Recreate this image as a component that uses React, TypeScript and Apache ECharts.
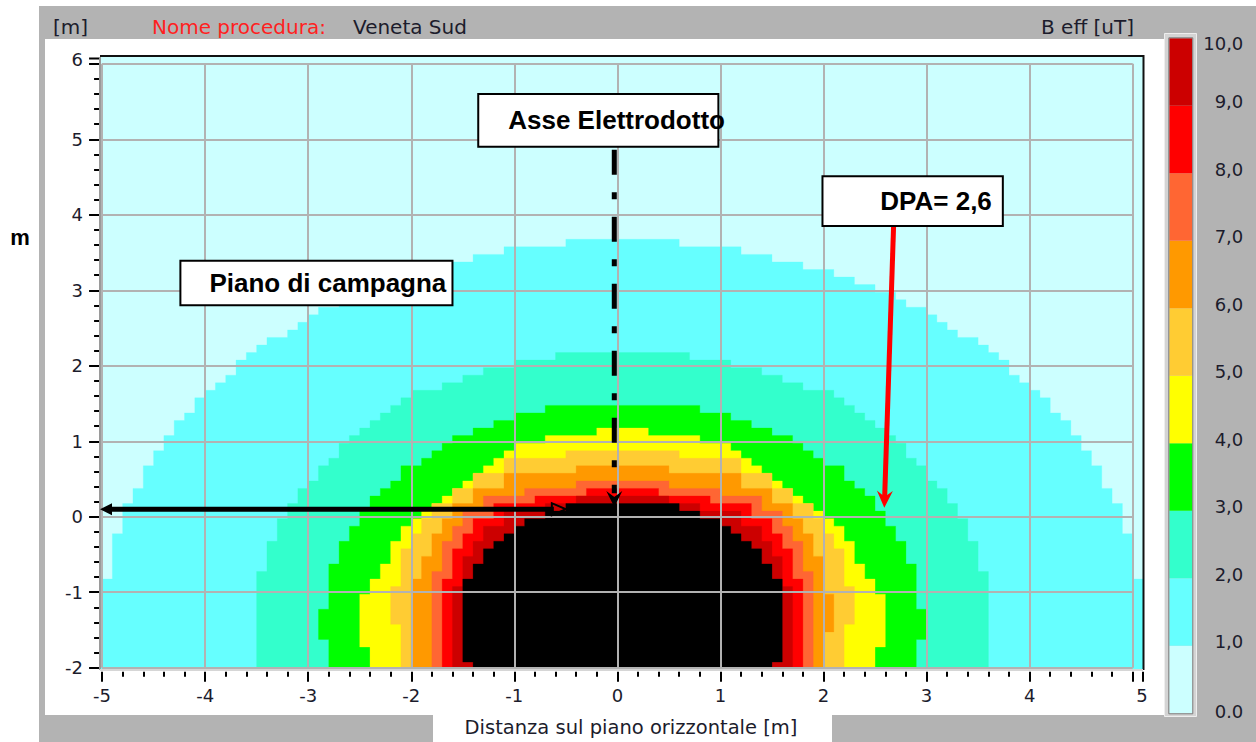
import React, { useEffect, useRef } from "react";
import * as echarts from "echarts";

// ---- plot extent (metres) ----
const X_MIN = -5.02;
const X_MAX = 5.1;
const Y_MIN = -2.03;
const Y_MAX = 6.09;
const X_TICK_RANGE = [-5, 5];
const Y_TICK_RANGE = [-2, 6];

// ---- colour scale (uT) ----
const LEVELS = [0, 1, 2, 3, 4, 5, 6, 7, 8, 9, 10];
const LEVEL_LABELS = ["0,0", "1,0", "2,0", "3,0", "4,0", "5,0", "6,0", "7,0", "8,0", "9,0", "10,0"];
const BAND_COLORS = ["#ccffff", "#66ffff", "#33ffcc", "#00ff00", "#ffff00", "#ffcc33", "#ff9900", "#ff6633", "#ff0000", "#cc0000"];
const OVER_COLOR = "#000000";

// ---- iso-field regions, staircase outlines [x start of step, top of step] (m) ----
const FIELD_0 = [[X_MIN, Y_MAX], [X_MAX, Y_MIN]];
const FIELD_1 = [[X_MIN, -0.825], [-4.9, -0.225], [-4.8, 0.175], [-4.7, 0.375], [-4.6, 0.675], [-4.5, 0.875], [-4.4, 1.075], [-4.3, 1.275], [-4.2, 1.375], [-4.1, 1.575], [-4.0, 1.675], [-3.9, 1.775], [-3.8, 1.875], [-3.7, 2.075], [-3.6, 2.175], [-3.5, 2.275], [-3.4, 2.375], [-3.2, 2.475], [-3.1, 2.575], [-3.0, 2.675], [-2.9, 2.775], [-2.7, 2.875], [-2.6, 2.975], [-2.4, 3.075], [-2.2, 3.175], [-2.0, 3.275], [-1.7, 3.375], [-1.4, 3.475], [-1.1, 3.575], [-0.5, 3.675], [0.6, 3.575], [1.2, 3.475], [1.5, 3.375], [1.8, 3.275], [2.1, 3.175], [2.3, 3.075], [2.5, 2.975], [2.7, 2.875], [2.8, 2.775], [3.0, 2.675], [3.1, 2.575], [3.2, 2.475], [3.3, 2.375], [3.5, 2.275], [3.6, 2.175], [3.7, 2.075], [3.8, 1.875], [3.9, 1.775], [4.0, 1.675], [4.1, 1.575], [4.2, 1.375], [4.3, 1.275], [4.4, 1.075], [4.5, 0.875], [4.6, 0.675], [4.7, 0.375], [4.8, 0.175], [4.9, -0.225], [5.0, -0.825], [X_MAX, Y_MIN]];
const FIELD_2 = [[-3.5, -0.725], [-3.4, -0.325], [-3.3, -0.025], [-3.2, 0.175], [-3.1, 0.375], [-3.0, 0.475], [-2.9, 0.675], [-2.8, 0.775], [-2.7, 0.975], [-2.6, 1.075], [-2.5, 1.175], [-2.4, 1.275], [-2.3, 1.375], [-2.2, 1.475], [-2.1, 1.575], [-2.0, 1.675], [-1.7, 1.775], [-1.5, 1.875], [-1.3, 1.975], [-1.0, 2.075], [-0.6, 2.175], [0.7, 2.075], [1.1, 1.975], [1.4, 1.875], [1.6, 1.775], [1.8, 1.675], [2.1, 1.575], [2.2, 1.475], [2.3, 1.375], [2.4, 1.275], [2.5, 1.175], [2.6, 1.075], [2.7, 0.975], [2.8, 0.775], [2.9, 0.675], [3.0, 0.475], [3.1, 0.375], [3.2, 0.175], [3.3, -0.025], [3.4, -0.325], [3.5, -0.725], [3.6, Y_MIN]];
const FIELD_3 = [[-2.8, -1.625], [-2.9, -1.225], [-2.8, -0.625], [-2.7, -0.325], [-2.6, -0.125], [-2.5, 0.075], [-2.4, 0.275], [-2.3, 0.375], [-2.2, 0.475], [-2.1, 0.675], [-1.9, 0.775], [-1.8, 0.875], [-1.7, 0.975], [-1.6, 1.075], [-1.4, 1.175], [-1.2, 1.275], [-1.0, 1.375], [-0.7, 1.475], [0.8, 1.375], [1.1, 1.275], [1.3, 1.175], [1.5, 1.075], [1.7, 0.975], [1.8, 0.875], [1.9, 0.775], [2.0, 0.675], [2.2, 0.475], [2.3, 0.375], [2.4, 0.275], [2.5, 0.075], [2.6, -0.125], [2.7, -0.325], [2.8, -0.625], [2.9, -1.225], [3.0, -1.625], [2.9, Y_MIN]];
const FIELD_4 = [[-2.4, -1.725], [-2.5, -1.025], [-2.4, -0.825], [-2.3, -0.625], [-2.2, -0.325], [-2.1, -0.125], [-2.0, -0.025], [-1.9, 0.075], [-1.8, 0.175], [-1.7, 0.275], [-1.6, 0.375], [-1.5, 0.475], [-1.4, 0.575], [-1.3, 0.675], [-1.2, 0.775], [-1.1, 0.875], [-1.0, 0.975], [-0.7, 1.075], [-0.2, 1.175], [0.3, 1.075], [0.8, 0.975], [1.1, 0.875], [1.2, 0.775], [1.3, 0.675], [1.4, 0.575], [1.5, 0.475], [1.6, 0.375], [1.7, 0.275], [1.8, 0.175], [1.9, 0.075], [2.0, -0.025], [2.1, -0.125], [2.2, -0.325], [2.3, -0.625], [2.4, -0.825], [2.5, -1.025], [2.6, -1.725], [2.5, Y_MIN]];
const FIELD_5 = [[-2.1, -1.425], [-2.2, -0.925], [-2.1, -0.425], [-2.0, -0.225], [-1.9, -0.025], [-1.8, 0.175], [-1.6, 0.375], [-1.4, 0.575], [-1.1, 0.775], [-0.5, 0.875], [0.6, 0.775], [1.2, 0.575], [1.5, 0.375], [1.7, 0.175], [1.9, -0.025], [2.0, -0.225], [2.1, -0.425], [2.2, -0.925], [2.3, -1.425], [2.2, Y_MIN]];
const FIELD_6 = [[-2.0, -0.825], [-1.9, -0.525], [-1.8, -0.225], [-1.7, -0.025], [-1.6, 0.175], [-1.4, 0.375], [-1.1, 0.575], [-0.4, 0.675], [0.5, 0.575], [1.2, 0.375], [1.5, 0.175], [1.7, -0.025], [1.8, -0.225], [1.9, -0.525], [2.0, -1.025], [2.1, -1.525], [2.0, Y_MIN]];
const FIELD_7 = [[-1.8, -0.725], [-1.7, -0.325], [-1.6, -0.125], [-1.5, 0.075], [-1.3, 0.275], [-0.9, 0.375], [-0.4, 0.475], [0.5, 0.375], [1.0, 0.275], [1.4, 0.075], [1.6, -0.125], [1.7, -0.325], [1.8, -0.725], [1.9, Y_MIN]];
const FIELD_8 = [[-1.7, -0.825], [-1.6, -0.425], [-1.5, -0.225], [-1.4, -0.025], [-1.2, 0.175], [-0.8, 0.275], [-0.3, 0.375], [0.4, 0.275], [0.9, 0.175], [1.3, -0.025], [1.5, -0.225], [1.6, -0.425], [1.7, -0.825], [1.8, Y_MIN]];
const FIELD_9 = [[-1.6, -0.925], [-1.5, -0.525], [-1.4, -0.325], [-1.3, -0.125], [-1.1, 0.075], [-0.7, 0.175], [-0.4, 0.275], [0.5, 0.175], [0.8, 0.075], [1.2, -0.125], [1.4, -0.325], [1.5, -0.525], [1.6, -0.925], [1.7, Y_MIN]];
const FIELD_10 = [[-1.4, -1.925], [-1.5, -0.825], [-1.4, -0.625], [-1.3, -0.425], [-1.2, -0.325], [-1.1, -0.225], [-1.0, -0.125], [-0.9, -0.025], [-0.7, 0.075], [-0.5, 0.175], [0.6, 0.075], [0.8, -0.025], [1.0, -0.125], [1.1, -0.225], [1.2, -0.325], [1.3, -0.425], [1.4, -0.625], [1.5, -0.825], [1.6, -1.925], [1.5, Y_MIN]];

const FIELDS = [FIELD_0, FIELD_1, FIELD_2, FIELD_3, FIELD_4, FIELD_5, FIELD_6, FIELD_7, FIELD_8, FIELD_9, FIELD_10];
const FIELD_COLORS = [...BAND_COLORS, OVER_COLOR];

// ---- annotations (data coordinates, m) ----
const ASSE = { x: -0.03, yTop: 4.86, yEnd: 0.31, yTip: 0.13 };
const BASE_ARROW = { y: 0.1, x0: X_MIN, x1: -0.5 };
const DPA_ARROW = { x0: 2.68, y0: 3.85, x1: 2.59, y1: 0.12 };
const BOX_ASSE = { x0: -1.35, y0: 5.6, x1: 0.98, y1: 4.9, text: "Asse Elettrodotto" };
const BOX_DPA = { x0: 1.99, y0: 4.51, x1: 3.74, y1: 3.85, text: "DPA= 2,6" };
const BOX_PIANO = { x0: -4.24, y0: 3.39, x1: -1.6, y1: 2.8, text: "Piano di campagna" };

// ---- layout ----
const GRID_DATA = { left: 100, top: 57, width: 1043, height: 613 };
const SX = GRID_DATA.width / (X_MAX - X_MIN);
const SY = GRID_DATA.height / (Y_MAX - Y_MIN);
const GRID_AXES = {
  left: GRID_DATA.left + (X_TICK_RANGE[0] - X_MIN) * SX,
  top: GRID_DATA.top + (Y_MAX - Y_TICK_RANGE[1]) * SY,
  width: (X_TICK_RANGE[1] - X_TICK_RANGE[0]) * SX,
  height: (Y_TICK_RANGE[1] - Y_TICK_RANGE[0]) * SY,
};
const GRID_SCALE = { left: 1169.3, top: 38.3, width: 23, height: 675 };
const X_AXIS_OFFSET = 4;
const Y_AXIS_OFFSET = 3;
const X_LABEL_MARGIN = 15;
const Y_LABEL_MARGIN = 16;

const FONT = '"DejaVu Sans", Verdana, sans-serif';
const BOLD = 'bold 26px "Liberation Sans", Arial, sans-serif';
const TEXT_COLOR = "#1c1c2c";

function stairPoints(pts: number[][], api: any) {
  const out: number[][] = [];
  let cx = pts[0][0];
  let cy = Y_MIN;
  out.push(api.coord([cx, cy]));
  for (const [x, y] of pts) {
    if (x !== cx) out.push(api.coord([x, cy]));
    out.push(api.coord([x, y]));
    cx = x;
    cy = y;
  }
  return out;
}

export default function App() {
  const ref = useRef<HTMLDivElement>(null);

  useEffect(() => {
    document.body.style.margin = "0";
    const chart = echarts.init(ref.current as HTMLDivElement, null, { renderer: "svg", width: 1256, height: 742 });

    const fieldSeries = FIELDS.map((pts, i) => ({
      type: "custom",
      name: "B>=" + LEVELS[i],
      xAxisIndex: 0,
      yAxisIndex: 0,
      silent: true,
      data: [[0, 0]],
      renderItem: (_p: any, api: any) => ({
        type: "polygon",
        shape: { points: stairPoints(pts, api) },
        style: { fill: FIELD_COLORS[i], stroke: FIELD_COLORS[i], lineWidth: 0.3 },
      }),
    }));

    const scaleSeries = BAND_COLORS.map((c, i) => ({
      type: "bar",
      xAxisIndex: 2,
      yAxisIndex: 2,
      stack: "scale",
      silent: true,
      barWidth: "100%",
      data: [LEVELS[i + 1] - LEVELS[i]],
      itemStyle: { color: c },
    }));

    const labelRich = {
      top: { fontSize: 18, fontFamily: FONT, color: TEXT_COLOR, padding: [10, 0, 0, 0] },
      n: { fontSize: 18, fontFamily: FONT, color: TEXT_COLOR, padding: [0, 0, 8, 0] },
      low: { fontSize: 18, fontFamily: FONT, color: TEXT_COLOR, padding: [0, 0, 3, 0] },
    };

    const option: any = {
      animation: false,
      grid: [
        { ...GRID_DATA },
        { ...GRID_AXES },
        { ...GRID_SCALE },
      ],
      xAxis: [
        { gridIndex: 0, type: "value", min: X_MIN, max: X_MAX, show: false },
        {
          gridIndex: 1, type: "value", min: X_TICK_RANGE[0], max: X_TICK_RANGE[1], interval: 1,
          position: "bottom", offset: X_AXIS_OFFSET, z: 10,
          axisLine: { show: false, onZero: false },
          axisTick: { show: true, length: 10, lineStyle: { color: "#000", width: 2 } },
          minorTick: { show: true, splitNumber: 5, length: 5, lineStyle: { color: "#000", width: 2 } },
          axisLabel: { fontSize: 18, fontFamily: FONT, color: TEXT_COLOR, margin: X_LABEL_MARGIN, showMaxLabel: false },
          splitLine: { show: true, lineStyle: { color: "#b2b2b2", width: 2 } },
        },
        { gridIndex: 2, type: "category", data: ["B"], show: false },
      ],
      yAxis: [
        { gridIndex: 0, type: "value", min: Y_MIN, max: Y_MAX, show: false },
        {
          gridIndex: 1, type: "value", min: Y_TICK_RANGE[0], max: Y_TICK_RANGE[1], interval: 1,
          position: "left", offset: Y_AXIS_OFFSET, z: 10,
          axisLine: { show: false, onZero: false },
          axisTick: { show: true, length: 10, lineStyle: { color: "#000", width: 2 } },
          minorTick: { show: true, splitNumber: 5, length: 5, lineStyle: { color: "#000", width: 2 } },
          axisLabel: { fontSize: 18, fontFamily: FONT, color: TEXT_COLOR, margin: Y_LABEL_MARGIN, showMaxLabel: false },
          splitLine: { show: true, lineStyle: { color: "#b2b2b2", width: 2 } },
        },
        {
          gridIndex: 2, type: "value", min: LEVELS[0], max: LEVELS[LEVELS.length - 1], interval: 1,
          position: "right",
          axisLine: { show: false, onZero: false }, axisTick: { show: false }, splitLine: { show: false },
          axisLabel: {
            fontSize: 18, fontFamily: FONT, color: TEXT_COLOR, margin: 51, align: "right",
            formatter: (v: number) => {
              const i = LEVELS.indexOf(v);
              if (i < 0) return "";
              if (i === LEVELS.length - 1) return `{top|${LEVEL_LABELS[i]}}`;
              if (i === 0) return `{low|${LEVEL_LABELS[i]}}`;
              return `{n|${LEVEL_LABELS[i]}}`;
            },
            rich: labelRich,
          },
        },
      ],
      series: [...fieldSeries, ...scaleSeries],
    };
    chart.setOption(option);

    const P = (x: number, y: number) => chart.convertToPixel({ gridIndex: 0 }, [x, y]) as number[];
    const g: any[] = [];
    const Z = 100;

    // plot frame
    const tl = P(X_MIN, Y_MAX);
    const br = P(X_MAX, Y_MIN);
    g.push({ type: "line", z: Z, shape: { x1: tl[0], y1: tl[1] - 1, x2: br[0], y2: tl[1] - 1 }, style: { stroke: "#111", lineWidth: 2 } });
    g.push({ type: "line", z: Z, shape: { x1: br[0] + 0.5, y1: tl[1] - 2, x2: br[0] + 0.5, y2: br[1] }, style: { stroke: "#111", lineWidth: 2 } });
    g.push({ type: "line", z: Z, shape: { x1: tl[0], y1: tl[1], x2: tl[0], y2: br[1] }, style: { stroke: "#9a9a9a", lineWidth: 2 } });
    g.push({ type: "line", z: Z, shape: { x1: tl[0], y1: br[1], x2: br[0], y2: br[1] }, style: { stroke: "#d6d6d6", lineWidth: 2 } });

    // end-of-axis ticks and labels placed at the frame edges
    const xAxisY = GRID_AXES.top + GRID_AXES.height + X_AXIS_OFFSET;
    const yAxisX = GRID_AXES.left - Y_AXIS_OFFSET;
    g.push({ type: "line", z: Z, shape: { x1: br[0], y1: xAxisY, x2: br[0], y2: xAxisY + 10 }, style: { stroke: "#000", lineWidth: 2 } });
    g.push({ type: "text", z: Z, x: br[0] - 1, y: xAxisY + X_LABEL_MARGIN, style: { text: String(X_TICK_RANGE[1]), fill: TEXT_COLOR, font: "18px " + FONT, align: "center", verticalAlign: "top" } });
    g.push({ type: "line", z: Z, shape: { x1: yAxisX - 10, y1: tl[1] + 1.5, x2: yAxisX, y2: tl[1] + 1.5 }, style: { stroke: "#000", lineWidth: 2 } });
    g.push({ type: "text", z: Z, x: yAxisX - Y_LABEL_MARGIN, y: tl[1] + 2, style: { text: String(Y_TICK_RANGE[1]), fill: TEXT_COLOR, font: "18px " + FONT, align: "right", verticalAlign: "middle" } });

    // colour-scale frame
    g.push({ type: "rect", z: 1, shape: { x: 1164.5, y: 33.5, width: 32, height: 683 }, style: { fill: "#d4d4d4", stroke: "#eeeeee", lineWidth: 1 } });
    g.push({ type: "rect", z: Z, shape: { x: 1168.8, y: 37.8, width: 24, height: 676 }, style: { fill: "none", stroke: "#7c7c7c", lineWidth: 1 } });

    // header texts
    const hdr = (text: string, x: number, fill: string) => ({
      type: "text", z: Z, x, y: 27, style: { text, fill, font: '20px "DejaVu Sans", Verdana, sans-serif', verticalAlign: "middle" },
    });
    g.push(hdr("[m]", 53, TEXT_COLOR));
    g.push(hdr("Nome procedura:", 152, "#ff1f1f"));
    g.push(hdr("Veneta Sud", 353, TEXT_COLOR));
    g.push(hdr("B eff [uT]", 1041, TEXT_COLOR));
    g.push({ type: "text", z: Z, x: 631, y: 727, style: { text: "Distanza sul piano orizzontale [m]", fill: TEXT_COLOR, font: '19.5px "DejaVu Sans", Verdana, sans-serif', align: "center", verticalAlign: "middle" } });
    g.push({ type: "text", z: Z, x: 20, y: 237, style: { text: "m", fill: "#000", font: 'bold 22px "Liberation Sans", Arial, sans-serif', align: "center", verticalAlign: "middle" } });
    // mask clipping the lowest scale label at the window edge
    g.push({ type: "rect", z: Z + 5, shape: { x: 1198, y: 718, width: 58, height: 24 }, style: { fill: "#b3b3b3" } });

    // axis of the power line: dash-dot vertical with arrow head
    const a0 = P(ASSE.x, ASSE.yTop);
    const a1 = P(ASSE.x, ASSE.yEnd);
    const aTip = P(ASSE.x, ASSE.yTip);
    g.push({ type: "line", z: Z, shape: { x1: a0[0], y1: a0[1], x2: a1[0], y2: a1[1] }, style: { stroke: "#000", lineWidth: 5, lineDash: [25, 17.5, 7, 17.5] } });
    g.push({ type: "polygon", z: Z, shape: { points: [[aTip[0], aTip[1]], [aTip[0] - 8, aTip[1] - 16], [aTip[0], aTip[1] - 10], [aTip[0] + 8, aTip[1] - 16]] }, style: { fill: "#000" } });

    // ground level double arrow
    const b0 = P(BASE_ARROW.x0, BASE_ARROW.y);
    const b1 = P(BASE_ARROW.x1, BASE_ARROW.y);
    g.push({ type: "line", z: Z, shape: { x1: b0[0] + 8, y1: b0[1], x2: b1[0] - 12, y2: b1[1] }, style: { stroke: "#000", lineWidth: 5 } });
    g.push({ type: "polygon", z: Z, shape: { points: [[b0[0], b0[1]], [b0[0] + 12, b0[1] - 6], [b0[0] + 12, b0[1] + 6]] }, style: { fill: "#000" } });
    g.push({ type: "polygon", z: Z, shape: { points: [[b1[0], b1[1]], [b1[0] - 14, b1[1] - 6], [b1[0] - 14, b1[1] + 6]] }, style: { fill: "none", stroke: "#000", lineWidth: 2 } });

    // DPA red arrow
    const d0 = P(DPA_ARROW.x0, DPA_ARROW.y0);
    const d1 = P(DPA_ARROW.x1, DPA_ARROW.y1);
    const ang = Math.atan2(d1[1] - d0[1], d1[0] - d0[0]);
    const back = (len: number, side: number) => [
      d1[0] - len * Math.cos(ang) + side * Math.sin(ang),
      d1[1] - len * Math.sin(ang) - side * Math.cos(ang),
    ];
    g.push({ type: "line", z: Z, shape: { x1: d0[0], y1: d0[1], x2: back(10, 0)[0], y2: back(10, 0)[1] }, style: { stroke: "#ff0000", lineWidth: 5 } });
    g.push({ type: "polygon", z: Z, shape: { points: [d1, back(17, 8), back(11, 0), back(17, -8)] }, style: { fill: "#ff0000" } });

    // label boxes
    const box = (b: any, textX: (x0: number, x1: number) => number, align: string) => {
      const p0 = P(b.x0, b.y0);
      const p1 = P(b.x1, b.y1);
      g.push({ type: "rect", z: Z, shape: { x: p0[0], y: p0[1], width: p1[0] - p0[0], height: p1[1] - p0[1] }, style: { fill: "#fff", stroke: "#000", lineWidth: 2 } });
      g.push({ type: "text", z: Z + 1, x: textX(p0[0], p1[0]), y: (p0[1] + p1[1]) / 2, style: { text: b.text, fill: "#000", font: BOLD, align, verticalAlign: "middle" } });
    };
    box(BOX_ASSE, (x0) => x0 + 30, "left");
    box(BOX_DPA, (_x0, x1) => x1 - 11, "right");
    box(BOX_PIANO, (x0) => x0 + 29, "left");

    chart.setOption({ graphic: g });
    return () => chart.dispose();
  }, []);

  return (
    <div style={{ position: "relative", width: 1256, height: 742, overflow: "hidden", background: "#fff" }}>
      <div style={{ position: "absolute", left: 39, top: 6, width: 1217, height: 736, background: "#b3b3b3" }} />
      <div style={{ position: "absolute", left: 45, top: 39, width: 1119, height: 676, background: "#fff" }} />
      <div style={{ position: "absolute", left: 433, top: 715, width: 399, height: 27, background: "#fff" }} />
      <div ref={ref} style={{ position: "absolute", left: 0, top: 0, width: 1256, height: 742 }} />
    </div>
  );
}
